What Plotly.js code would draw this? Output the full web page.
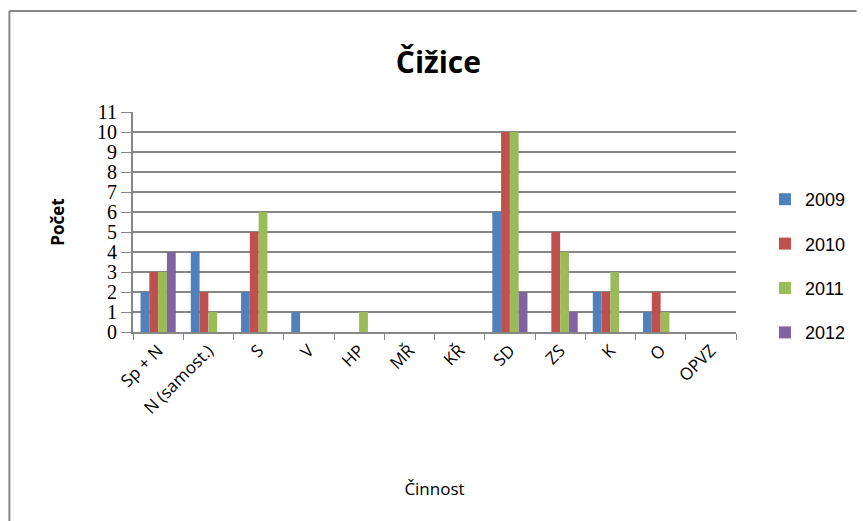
<!DOCTYPE html>
<html>
<head>
<meta charset="utf-8">
<script src="https://cdn.plot.ly/plotly-3.0.1.min.js"></script>
<style>
html,body{margin:0;padding:0;background:#fff;}
#chart{width:863px;height:521px;}
</style>
</head>
<body>
<div id="chart"></div>
<script>
const categories = ["Sp + N", "N (samost.)", "S", "V", "HP", "MŘ", "KŘ", "SD", "ZS", "K", "O", "OPVZ"];
const years = ["2009", "2010", "2011", "2012"];
const v2009 = [2, 4, 2, 1, 0, 0, 0, 6, 0, 2, 1, 0];
const v2010 = [3, 2, 5, 0, 0, 0, 0, 10, 5, 2, 2, 0];
const v2011 = [3, 1, 6, 0, 1, 0, 0, 10, 4, 3, 1, 0];
const v2012 = [4, 0, 0, 0, 0, 0, 0, 2, 1, 0, 0, 0];
const yTicks = [0,1,2,3,4,5,6,7,8,9,10,11];

const series = [v2009, v2010, v2011, v2012];
const colors = ["#4F81BD", "#C0504D", "#9BBB59", "#8064A2"];

const data = series.map((vals, i) => ({
  type: "bar",
  name: years[i],
  x: categories,
  y: vals,
  marker: {color: colors[i]},
  legendgroup: "g" + i,
  hoverinfo: "x+y+name"
}));

const gray = "#878787";
const layout = {
  width: 863, height: 521,
  margin: {l: 133, r: 120, t: 112, b: 189},
  paper_bgcolor: "#fff", plot_bgcolor: "#fff",
  barmode: "group",
  bargap: 0.3,
  bargroupgap: 0,
  title: {text: "Čižice", font: {family: "Open Sans, Liberation Sans, sans-serif", size: 30, color: "#000", weight: "bold"},
          x: 0.508, xanchor: "center", y: 0.88, yanchor: "middle"},
  font: {family: "Open Sans, Liberation Sans, sans-serif", color: "#000"},
  xaxis: {
    type: "category",
    tickson: "boundaries",
    ticks: "outside", ticklen: 6, tickcolor: gray, tickwidth: 1,
    showline: true, linecolor: gray, linewidth: 2,
    tickangle: -45,
    tickfont: {size: 17, family: "Open Sans, Liberation Sans, sans-serif"},
    showgrid: false,
    title: {text: "Činnost", font: {size: 17}, standoff: 65},
    automargin: false
  },
  yaxis: {
    range: [0, 11],
    tickvals: yTicks,
    ticktext: yTicks.map(String),
    ticks: "outside", ticklen: 10, tickcolor: gray, tickwidth: 1,
    showgrid: true, gridcolor: gray, gridwidth: 1.5,
    showline: true, linecolor: gray, linewidth: 2,
    zeroline: false,
    tickfont: {size: 20, family: "Liberation Serif, serif"},
    title: {text: "Počet", font: {size: 17, weight: "bold"}, standoff: 28},
    automargin: false
  },
  legend: {
    x: 1.048, xanchor: "left", y: 0.30, yanchor: "middle",
    font: {size: 18, family: "Liberation Sans, sans-serif"},
    tracegroupgap: 18,
    traceorder: "grouped",
    itemwidth: 30
  },
  shapes: [
    {type: "line", xref: "paper", yref: "paper", x0: -0.205, x1: 1.2, y0: 1.459, y1: 1.459, line: {color: gray, width: 2}},
    {type: "line", xref: "paper", yref: "paper", x0: -0.205, x1: -0.205, y0: 1.459, y1: -0.87, line: {color: gray, width: 2}}
  ]
};

Plotly.newPlot("chart", data, layout, {staticPlot: true});
</script>
</body>
</html>
